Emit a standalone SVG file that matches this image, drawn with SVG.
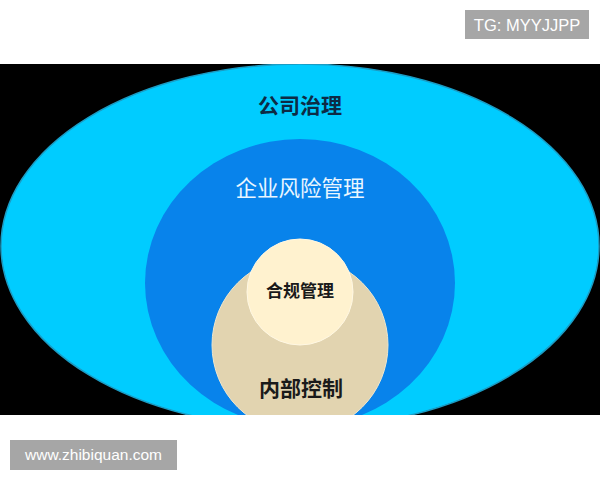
<svg xmlns="http://www.w3.org/2000/svg" width="600" height="480" viewBox="0 0 600 480">
  <defs>
    <clipPath id="band">
      <rect x="0" y="64" width="600" height="351"/>
    </clipPath>
    <style>
      .cjk { font-family: "Noto Sans CJK SC", "Noto Sans", sans-serif; text-anchor: middle; }
      .wm { font-family: "Liberation Sans", Arial, sans-serif; fill: #ffffff; text-anchor: middle; }
      .wmbox { fill: #a6a6a6; }
    </style>
  </defs>
  <rect x="0" y="0" width="600" height="480" fill="#ffffff"/>
  <rect x="0" y="64" width="600" height="351" fill="#000000"/>
  <g clip-path="url(#band)">
    <g id="corporate-governance">
      <ellipse cx="300" cy="246" rx="299" ry="182" fill="#00ccff" stroke="#1b9cc4" stroke-width="1.5"/>
      <text class="cjk" x="300" y="113" font-size="21" font-weight="bold" fill="#0d2b45">公司治理</text>
    </g>
    <g id="enterprise-risk-management">
      <ellipse cx="300" cy="283" rx="155" ry="144" fill="#0883eb"/>
      <text class="cjk" x="300" y="196" font-size="21.5" fill="#eaf6ff">企业风险管理</text>
    </g>
    <g id="internal-control">
      <circle cx="300" cy="345" r="88" fill="#e2d4b0" stroke="#efe6cc" stroke-width="1"/>
      <text class="cjk" x="301" y="396" font-size="21" font-weight="bold" fill="#1a1a1a">内部控制</text>
    </g>
    <g id="compliance-management">
      <circle cx="300" cy="292" r="53" fill="#fff2cf" stroke="#fff8e4" stroke-width="1"/>
      <text class="cjk" x="300" y="297" font-size="17" font-weight="bold" fill="#1a1a1a">合规管理</text>
    </g>
  </g>
  <g id="connectors"/>
  <g id="watermark-tg">
    <rect class="wmbox" x="465" y="10" width="124" height="29"/>
    <text class="wm" x="527" y="31" font-size="16.5">TG: MYYJJPP</text>
  </g>
  <g id="watermark-site">
    <rect class="wmbox" x="10" y="440" width="167" height="30"/>
    <text class="wm" x="93.5" y="460" font-size="15.5">www.zhibiquan.com</text>
  </g>
</svg>
